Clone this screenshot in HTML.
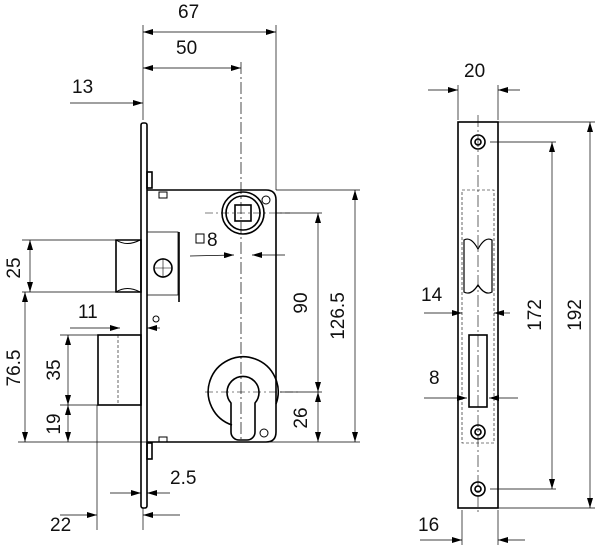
<!DOCTYPE html>
<html><head><style>body{margin:0;background:#fff}svg{display:block}text{font-family:"Liberation Sans",sans-serif;font-size:19px;fill:#111}</style></head><body>
<svg width="600" height="550" viewBox="0 0 600 550" xmlns="http://www.w3.org/2000/svg">
<defs><marker id="a" viewBox="0 0 10 6" refX="10" refY="3" markerWidth="10" markerHeight="6" orient="auto-start-reverse" markerUnits="userSpaceOnUse"><path d="M0,0L10,3L0,6z" fill="#000"/></marker></defs>
<g stroke="#000" fill="none" stroke-width="0.7">
<line x1="143" y1="25" x2="143" y2="120"/><line x1="276" y1="25" x2="276" y2="190"/>
<line x1="241" y1="62" x2="241" y2="440" stroke-dasharray="12,3,2,3"/>
<line x1="276" y1="190" x2="360" y2="190"/>
<line x1="22" y1="240" x2="120" y2="240"/><line x1="22" y1="292" x2="120" y2="292"/>
<line x1="18" y1="442" x2="360" y2="442"/><line x1="60" y1="405" x2="98" y2="405"/>
<line x1="60" y1="335" x2="98" y2="335"/>
<line x1="97" y1="405" x2="97" y2="530"/><line x1="143" y1="508" x2="143" y2="530"/>
<line x1="276" y1="213" x2="322" y2="213"/><line x1="280" y1="392" x2="322" y2="392"/>
<line x1="458" y1="85" x2="458" y2="120"/><line x1="498" y1="85" x2="498" y2="120"/>
<line x1="498" y1="122" x2="595" y2="122"/><line x1="498" y1="508" x2="595" y2="508"/>
<line x1="490" y1="142" x2="556" y2="142"/><line x1="490" y1="489" x2="556" y2="489"/>
<line x1="462" y1="510" x2="462" y2="545"/><line x1="498" y1="510" x2="498" y2="545"/>
<line x1="143" y1="32" x2="276" y2="32" marker-start="url(#a)" marker-end="url(#a)"/>
<line x1="143" y1="68" x2="241" y2="68" marker-start="url(#a)" marker-end="url(#a)"/>
<line x1="70" y1="103" x2="143" y2="103" marker-end="url(#a)"/>
<line x1="30" y1="240" x2="30" y2="292" marker-start="url(#a)" marker-end="url(#a)"/>
<line x1="25" y1="292" x2="25" y2="442" marker-start="url(#a)" marker-end="url(#a)"/>
<line x1="68" y1="335" x2="68" y2="405" marker-start="url(#a)" marker-end="url(#a)"/>
<line x1="68" y1="405" x2="68" y2="442" marker-start="url(#a)" marker-end="url(#a)"/>
<line x1="70" y1="328" x2="120" y2="328" marker-end="url(#a)"/><line x1="160" y1="328" x2="147" y2="328" marker-end="url(#a)"/>
<line x1="110" y1="493" x2="141" y2="493" marker-end="url(#a)"/><line x1="170" y1="493" x2="147" y2="493" marker-end="url(#a)"/>
<line x1="60" y1="515" x2="97" y2="515" marker-end="url(#a)"/><line x1="180" y1="515" x2="143" y2="515" marker-end="url(#a)"/>
<line x1="190" y1="256" x2="234" y2="255" marker-end="url(#a)"/><line x1="285" y1="255" x2="252" y2="255" marker-end="url(#a)"/>
<line x1="318" y1="213" x2="318" y2="392" marker-start="url(#a)" marker-end="url(#a)"/>
<line x1="355" y1="190" x2="355" y2="442" marker-start="url(#a)" marker-end="url(#a)"/>
<line x1="318" y1="392" x2="318" y2="442" marker-start="url(#a)" marker-end="url(#a)"/>
<line x1="428" y1="90" x2="458" y2="90" marker-end="url(#a)"/><line x1="520" y1="90" x2="498" y2="90" marker-end="url(#a)"/>
<line x1="552" y1="142" x2="552" y2="489" marker-start="url(#a)" marker-end="url(#a)"/>
<line x1="590" y1="122" x2="590" y2="508" marker-start="url(#a)" marker-end="url(#a)"/>
<line x1="424" y1="313" x2="462" y2="313" marker-end="url(#a)"/><line x1="510" y1="313" x2="494" y2="313" marker-end="url(#a)"/>
<line x1="424" y1="398" x2="467" y2="398" marker-end="url(#a)"/><line x1="518" y1="398" x2="489" y2="398" marker-end="url(#a)"/>
<line x1="420" y1="540" x2="462" y2="540" marker-end="url(#a)"/><line x1="525" y1="540" x2="498" y2="540" marker-end="url(#a)"/>
</g>
<g stroke="#000" fill="none" stroke-width="1.6">
<rect x="141" y="123" width="6" height="385" rx="2"/>
<rect x="147" y="172" width="5" height="16"/><rect x="147" y="443" width="5" height="16"/>
<path d="M147,190H266Q276,190 276,200V432Q276,442 266,442H147"/>
<rect x="159" y="192" width="8" height="6" stroke-width="1"/><rect x="159" y="437" width="8" height="5" stroke-width="1"/>
<path d="M147,232H178V295H147" stroke-width="0.8"/><line x1="179" y1="232" x2="179" y2="302"/>
<circle cx="163" cy="268" r="9"/>
<path d="M116,240H141V292H116Z"/><path d="M116,240Q127,247 140,240M116,292Q127,285 140,292" stroke-width="1"/>
<rect x="98" y="335" width="43" height="70"/>
<circle cx="156" cy="319" r="3" stroke-width="1"/>
<circle cx="243" cy="213" r="21"/><circle cx="243" cy="213" r="17"/>
<rect x="235" y="205" width="16" height="16"/>
<circle cx="266" cy="200" r="4" stroke-width="1"/>
<rect x="196" y="234" width="8" height="9" stroke-width="1"/>
<path d="M232,425A35,35 0 1 1 276,404"/>
<path d="M231,403A16,16 0 1 1 255,403L255,432A8,8 0 0 1 247,440L239,440A8,8 0 0 1 231,432Z"/>
<circle cx="264" cy="433" r="4" stroke-width="1"/>
<rect x="458" y="122" width="40" height="386"/>
<circle cx="478" cy="142" r="7"/><circle cx="478" cy="142" r="3"/>
<circle cx="478" cy="432" r="7"/><circle cx="478" cy="432" r="3"/>
<circle cx="478" cy="489" r="7"/><circle cx="478" cy="489" r="3"/>
<path d="M464,240Q471,236 478,249Q485,236 492,240V292Q485,296 478,285Q471,296 464,292Z" stroke-width="1.2"/>
<rect x="469" y="335" width="18" height="72"/>
</g>
<g stroke="#000" fill="none" stroke-width="0.6">
<rect x="462" y="190" width="32" height="253" stroke-dasharray="3,2"/>
<line x1="478" y1="115" x2="478" y2="515" stroke-dasharray="12,3,2,3"/>
<line x1="155" y1="268" x2="172" y2="268"/><line x1="163" y1="258" x2="163" y2="278"/>
<line x1="205" y1="392" x2="300" y2="392" stroke-dasharray="8,3,2,3"/>
<line x1="205" y1="213" x2="290" y2="213" stroke-dasharray="8,3,2,3"/>
<line x1="118" y1="335" x2="118" y2="405" stroke-dasharray="3,2"/>
</g>
<text x="178" y="18">67</text><text x="176" y="54">50</text><text x="72" y="93">13</text>
<text x="20" y="268" transform="rotate(-90 20 268)" text-anchor="middle">25</text>
<text x="20" y="368" transform="rotate(-90 20 368)" text-anchor="middle">76.5</text>
<text x="60" y="370" transform="rotate(-90 60 370)" text-anchor="middle">35</text>
<text x="60" y="424" transform="rotate(-90 60 424)" text-anchor="middle">19</text>
<text x="78" y="318">11</text><text x="207" y="246">8</text>
<text x="170" y="484">2.5</text><text x="50" y="531">22</text>
<text x="307" y="303" transform="rotate(-90 307 303)" text-anchor="middle">90</text>
<text x="344" y="316" transform="rotate(-90 344 316)" text-anchor="middle">126.5</text>
<text x="307" y="418" transform="rotate(-90 307 418)" text-anchor="middle">26</text>
<text x="464" y="77">20</text><text x="421" y="301">14</text><text x="429" y="384">8</text><text x="418" y="531">16</text>
<text x="541" y="315" transform="rotate(-90 541 315)" text-anchor="middle">172</text>
<text x="581" y="315" transform="rotate(-90 581 315)" text-anchor="middle">192</text>
</svg>
</body></html>
